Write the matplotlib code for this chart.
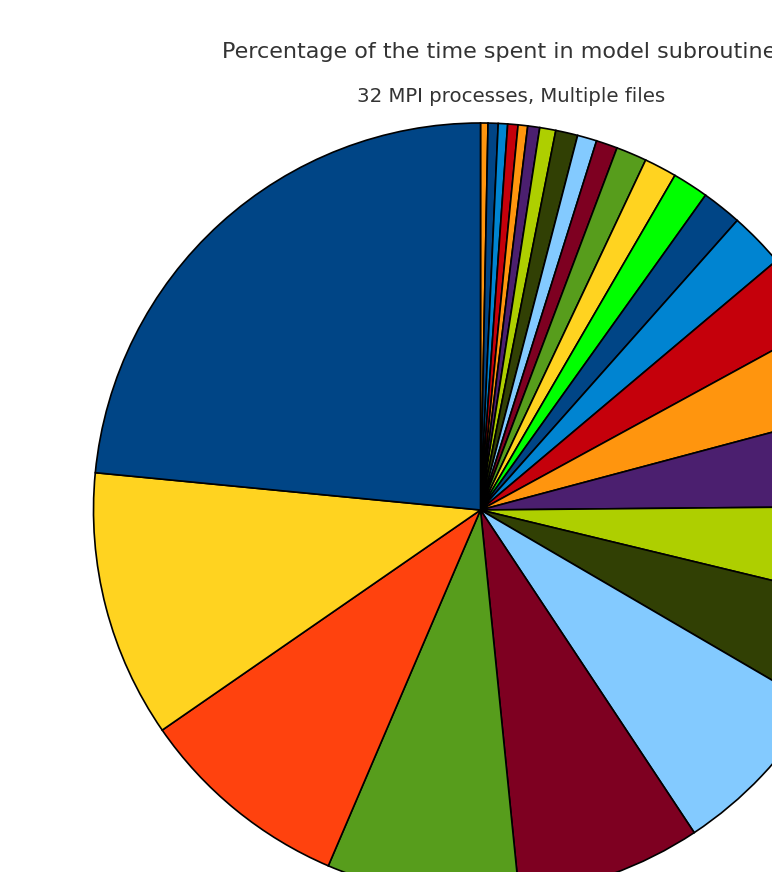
import matplotlib
matplotlib.use("Agg")
import matplotlib.pyplot as plt

# share of run time per subroutine (%), listed clockwise from 12 o'clock
shares = [0.31, 0.42, 0.39, 0.43, 0.40, 0.50, 0.67, 0.92, 0.81, 0.89,
          1.28, 1.36, 1.50, 1.67, 2.31, 3.19, 3.81, 4.00, 3.92, 4.64,
          7.28, 7.72, 8.03, 8.94, 11.17, 23.47]
colors = ["#ff950e", "#004586", "#0084d1", "#c5000b", "#ff950e", "#4b1f6f",
          "#aecf00", "#314004", "#83caff", "#7e0021", "#579d1c", "#ffd320",
          "#00ff00", "#004586", "#0084d1", "#c5000b", "#ff950e", "#4b1f6f",
          "#aecf00", "#314004", "#83caff", "#7e0021", "#579d1c", "#ff420e",
          "#ffd320", "#004586"]
title = "Percentage of the time spent in model subroutines"
subtitle = "32 MPI processes, Multiple files"

W, H = 772, 872
fig = plt.figure(figsize=(W / 100, H / 100), dpi=100)
ax = fig.add_axes([0, 0, 1, 1])
ax.set_xlim(0, W); ax.set_ylim(0, H); ax.set_aspect("equal"); ax.axis("off")

ax.pie(shares, colors=colors, startangle=90, counterclock=False,
       center=(480.5, H - 510), radius=387,
       wedgeprops=dict(edgecolor="black", linewidth=1.2))
ax.set_xlim(0, W); ax.set_ylim(0, H)

fig.text(222 / W, 1 - 58 / H, title, fontsize=16, color="#333333",
         family="DejaVu Sans", ha="left", va="baseline")
fig.text(511 / W, 1 - 102 / H, subtitle, fontsize=14.2, color="#333333",
         family="DejaVu Sans", ha="center", va="baseline")

fig.savefig("out.png", dpi=100, facecolor="white")
